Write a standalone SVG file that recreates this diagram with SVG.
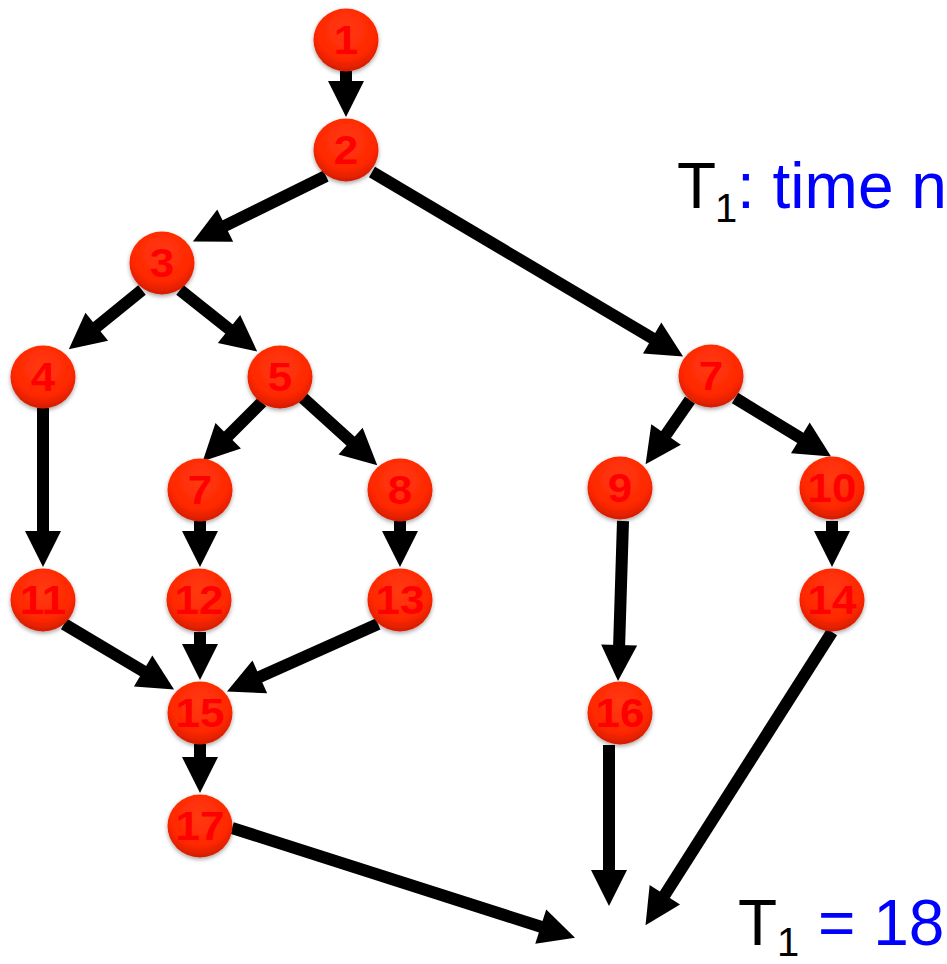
<svg xmlns="http://www.w3.org/2000/svg" width="947" height="964" viewBox="0 0 947 964">
  <style>
    .edge { stroke: #000; stroke-width: 12; fill: none; marker-end: url(#ah); }
    .node ellipse { fill: url(#ball); filter: url(#shadow); }
    .node text { font-family: "Liberation Sans", Arial, sans-serif; font-weight: bold; font-size: 40px; fill: #ff0000; text-anchor: middle; }
    .label { font-family: "Liberation Sans", Arial, sans-serif; font-size: 64px; }
    .sub { font-size: 40px; }
    .blue { fill: #0000ff; }
  </style>
  <defs>
    <radialGradient id="ball" cx="0.5" cy="0.35" r="0.65">
      <stop offset="0" stop-color="#ff3a12"/>
      <stop offset="0.7" stop-color="#ff2800"/>
      <stop offset="1" stop-color="#d41c00"/>
    </radialGradient>
    <filter id="shadow" x="-30%" y="-30%" width="160%" height="170%">
      <feDropShadow dx="0" dy="2" stdDeviation="2" flood-color="#000" flood-opacity="0.35"/>
    </filter>
    <marker id="ah" markerUnits="userSpaceOnUse" markerWidth="40" markerHeight="40" refX="1" refY="18" orient="auto" overflow="visible">
      <path d="M0,0 L36,18 L0,36 z" fill="#000"/>
    </marker>
  </defs>

  <!-- connectors -->
  <g id="edges">
    <line class="edge" x1="346" y1="71" x2="346" y2="82"/>
    <line class="edge" x1="326" y1="176" x2="224.3" y2="226.1"/>
    <line class="edge" x1="372" y1="172" x2="653.0" y2="338.6"/>
    <line class="edge" x1="142" y1="290" x2="96.0" y2="327.3"/>
    <line class="edge" x1="180" y1="290" x2="229.8" y2="329.6"/>
    <line class="edge" x1="43" y1="408" x2="43" y2="532"/>
    <line class="edge" x1="262" y1="402" x2="227.5" y2="436.5"/>
    <line class="edge" x1="303" y1="398" x2="351.3" y2="441.8"/>
    <line class="edge" x1="200" y1="521" x2="200" y2="532"/>
    <line class="edge" x1="400" y1="521" x2="400" y2="532"/>
    <line class="edge" x1="64" y1="624" x2="144.0" y2="671.6"/>
    <line class="edge" x1="200" y1="632" x2="200" y2="645"/>
    <line class="edge" x1="378" y1="624" x2="258.9" y2="677.3"/>
    <line class="edge" x1="200" y1="744" x2="200" y2="758"/>
    <line class="edge" x1="232" y1="828" x2="541.7" y2="927.0"/>
    <line class="edge" x1="690" y1="400" x2="665.5" y2="435.4"/>
    <line class="edge" x1="735" y1="398" x2="801.2" y2="438.3"/>
    <line class="edge" x1="623" y1="521" x2="619.1" y2="646"/>
    <line class="edge" x1="832" y1="521" x2="832" y2="532"/>
    <line class="edge" x1="609" y1="745" x2="609" y2="871"/>
    <line class="edge" x1="832" y1="632" x2="664.3" y2="895.6"/>
  </g>

  <!-- task nodes (labels drawn slightly wider than tall) -->
  <g id="n1" class="node"><ellipse cx="346" cy="40" rx="32.5" ry="31.5"/><text transform="translate(346 54) scale(1.1 1)">1</text></g>
  <g id="n2" class="node"><ellipse cx="346" cy="150" rx="32.5" ry="31.5"/><text transform="translate(346 164) scale(1.1 1)">2</text></g>
  <g id="n3" class="node"><ellipse cx="162" cy="263" rx="32.5" ry="31.5"/><text transform="translate(162 277) scale(1.1 1)">3</text></g>
  <g id="n4" class="node"><ellipse cx="43" cy="377" rx="32.5" ry="31.5"/><text transform="translate(43 391) scale(1.1 1)">4</text></g>
  <g id="n5" class="node"><ellipse cx="280" cy="377" rx="32.5" ry="31.5"/><text transform="translate(280 391) scale(1.1 1)">5</text></g>
  <g id="n7a" class="node"><ellipse cx="200" cy="490" rx="32.5" ry="31.5"/><text transform="translate(200 504) scale(1.1 1)">7</text></g>
  <g id="n8" class="node"><ellipse cx="400" cy="490" rx="32.5" ry="31.5"/><text transform="translate(400 504) scale(1.1 1)">8</text></g>
  <g id="n7b" class="node"><ellipse cx="711" cy="376" rx="32.5" ry="31.5"/><text transform="translate(711 390) scale(1.1 1)">7</text></g>
  <g id="n9" class="node"><ellipse cx="620" cy="488" rx="32.5" ry="31.5"/><text transform="translate(620 502) scale(1.1 1)">9</text></g>
  <g id="n10" class="node"><ellipse cx="832" cy="488" rx="32.5" ry="31.5"/><text transform="translate(832 502) scale(1.1 1)">10</text></g>
  <g id="n11" class="node"><ellipse cx="43" cy="600" rx="32.5" ry="31.5"/><text transform="translate(43 614) scale(1.1 1)">11</text></g>
  <g id="n12" class="node"><ellipse cx="199" cy="600" rx="32.5" ry="31.5"/><text transform="translate(199 614) scale(1.1 1)">12</text></g>
  <g id="n13" class="node"><ellipse cx="400" cy="600" rx="32.5" ry="31.5"/><text transform="translate(400 614) scale(1.1 1)">13</text></g>
  <g id="n14" class="node"><ellipse cx="832" cy="600" rx="32.5" ry="31.5"/><text transform="translate(832 614) scale(1.1 1)">14</text></g>
  <g id="n15" class="node"><ellipse cx="200" cy="713" rx="32.5" ry="31.5"/><text transform="translate(200 727) scale(1.1 1)">15</text></g>
  <g id="n16" class="node"><ellipse cx="620" cy="713" rx="32.5" ry="31.5"/><text transform="translate(620 727) scale(1.1 1)">16</text></g>
  <g id="n17" class="node"><ellipse cx="200" cy="826" rx="32.5" ry="31.5"/><text transform="translate(200 840) scale(1.1 1)">17</text></g>

  <!-- annotations -->
  <text class="label" x="677" y="208">T<tspan class="sub" x="715" y="222">1</tspan><tspan class="blue" x="737" y="208">: time n</tspan></text>
  <text class="label" x="738" y="945">T<tspan class="sub" x="777" y="956">1</tspan><tspan class="blue" x="818" y="945">= 18</tspan></text>
</svg>
